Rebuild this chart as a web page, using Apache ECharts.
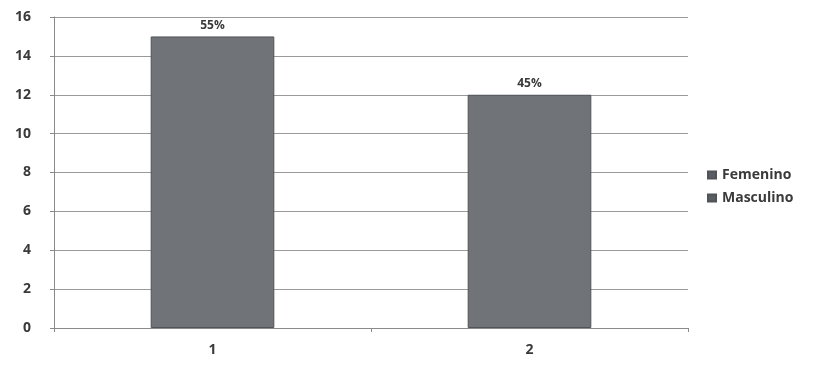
<!DOCTYPE html>
<html>
<head>
<meta charset="utf-8">
<script src="https://cdn.jsdelivr.net/npm/echarts@6/dist/echarts.min.js"></script>
<style>
  html, body { margin: 0; padding: 0; background: #ffffff; }
  #chart { width: 836px; height: 366px; }
</style>
</head>
<body>
<div id="chart"></div>
<script>
// Respondents by sex
const categories = ['1', '2'];
const femenino = [15, '-'];
const masculino = ['-', 12];
const percentLabels = ['55%', '45%'];
const yTicks = { min: 0, max: 16, interval: 2 };

const chart = echarts.init(document.getElementById('chart'));
const font = '"Open Sans", "DejaVu Sans", sans-serif';
const textColor = '#3a3a3a';
const barColor = '#707377';

function barSeries(name, data) {
  return {
    name: name,
    type: 'bar',
    stack: 'total',
    data: data,
    barWidth: '39%',
    itemStyle: { color: barColor, borderColor: '#505357', borderWidth: 1 },
    label: {
      show: true,
      position: 'top',
      distance: 5,
      formatter: p => percentLabels[p.dataIndex],
      color: textColor,
      fontFamily: font,
      fontWeight: 'bold',
      fontSize: 12
    }
  };
}

chart.setOption({
  animation: false,
  grid: { left: 54, right: 148, top: 17, bottom: 38 },
  legend: {
    orient: 'vertical',
    left: 702,
    top: 163,
    itemWidth: 8,
    itemHeight: 7,
    itemGap: 9,
    icon: 'rect',
    data: [
      { name: 'Femenino', itemStyle: { color: '#5a5d61' } },
      { name: 'Masculino', itemStyle: { color: '#5a5d61' } }
    ],
    textStyle: { color: textColor, fontFamily: font, fontWeight: 'bold', fontSize: 14, padding: [0, 0, 0, 1] }
  },
  xAxis: {
    type: 'category',
    data: categories,
    axisLine: { lineStyle: { color: '#8a8a8a' } },
    axisTick: { show: true, length: 4, lineStyle: { color: '#8a8a8a' } },
    axisLabel: { color: textColor, fontFamily: font, fontWeight: 'bold', fontSize: 14, margin: 15 }
  },
  yAxis: {
    type: 'value',
    min: yTicks.min,
    max: yTicks.max,
    interval: yTicks.interval,
    axisLine: { show: true, lineStyle: { color: '#8a8a8a' } },
    axisTick: { show: true, length: 4, lineStyle: { color: '#8a8a8a' } },
    axisLabel: { color: textColor, fontFamily: font, fontWeight: 'bold', fontSize: 14, margin: 23 },
    splitLine: { lineStyle: { color: '#9a9a9a', width: 1 } }
  },
  series: [barSeries('Femenino', femenino), barSeries('Masculino', masculino)]
});
</script>
</body>
</html>
